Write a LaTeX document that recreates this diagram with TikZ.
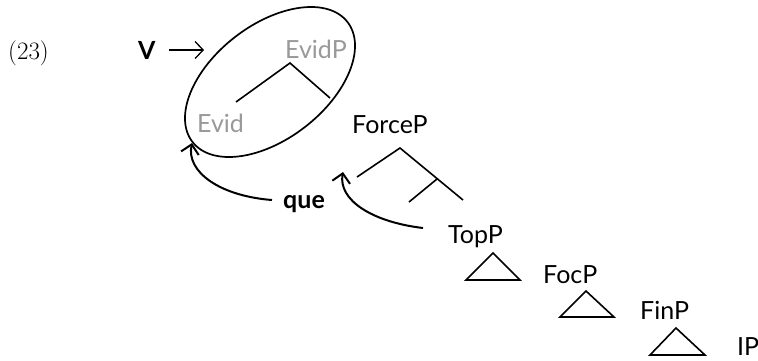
\documentclass[tikz,border=0pt]{standalone}
\usepackage{fontspec}
\setsansfont{Lato}
\usepackage{tikz}
\usetikzlibrary{shapes.geometric,arrows.meta}

\tikzset{
  lbl/.style={font=\sffamily\fontsize{25}{28}\selectfont,anchor=base west,inner sep=0},
  ghost/.style={lbl,text=black!40},
  branch/.style={black,line width=1.6pt},
  move/.style={black,line width=2pt,-{Straight Barb[length=9pt,width=18pt]}},
}

\begin{document}
\begin{tikzpicture}[x=1pt,y=-1pt]
\useasboundingbox (0,0) rectangle (758,360);

\node [lbl,font=\rmfamily\fontsize{25}{28}\selectfont] (ex23) at (8,59) {(23)};
\node [lbl,font=\sffamily\bfseries\fontsize{25}{28}\selectfont] (v) at (138,59) {V};
\coordinate (vtip) at (204,50);
\draw [black,line width=1.3pt,-{Straight Barb[length=8pt,width=17pt]}] ([xshift=13pt,yshift=9pt]v.base east) -- (vtip);

% the evidential shell
\node [draw,line width=1.7pt,ellipse,minimum width=196pt,minimum height=114pt,inner sep=0,rotate=37.7] (ring) at (270,82) {};
\node [ghost] (evidp) at (285,58) {EvidP};
\node [ghost] (evid) at (197,132) {Evid};
\coordinate (ea) at (290,63);
\draw [branch] (236,102) -- (ea) -- (330,98);

% the left periphery
\node [lbl] (forcep) at (352,133) {ForceP};
\coordinate (fa) at (400,148);
\coordinate (fb) at (437,179);
\draw [branch] (357,177) -- (fa) -- (463,200);
\draw [branch] (fb) -- (409,202);

\node [lbl] (topp) at (448,243) {TopP};
\node [lbl] (focp) at (543,283) {FocP};
\node [lbl] (finp) at (640,319) {FinP};
\node [lbl] (ip) at (737,355) {IP};

\draw [branch] (493,253) -- (466,280) -- (520,280) -- cycle;
\draw [branch] (586,291) -- (560,317) -- (614,317) -- cycle;
\draw [branch] (676,328) -- (650,355) -- (705,355) -- cycle;

% movements
\node [lbl,font=\sffamily\bfseries\fontsize{25}{28}\selectfont] (que) at (283,208) {que};
\coordinate (evidtip) at (192,143);
\coordinate (forcetip) at (343,172);
\draw [move] ([xshift=-11pt,yshift=8pt]que.base west) .. controls (220,196) and (186,172) .. (evidtip);
\draw [move] ([xshift=-25pt,yshift=15pt]topp.base west) .. controls (372,222) and (338,200) .. (forcetip);

\end{tikzpicture}
\end{document}
